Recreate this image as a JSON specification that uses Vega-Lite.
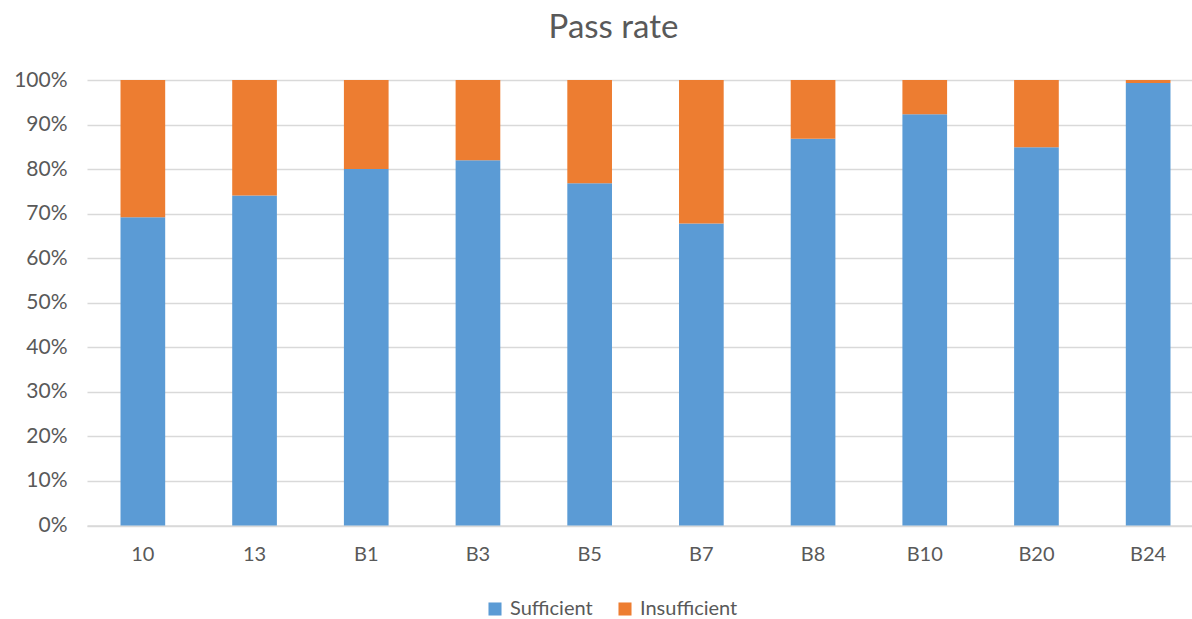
{
  "$schema": "https://vega.github.io/schema/vega-lite/v6.json",
  "autosize": {"type": "none"},
  "padding": {"left": 87, "top": 80, "right": 0, "bottom": 94},
  "width": 1117,
  "height": 445.5,
  "background": "white",
  "title": {
    "text": "Pass rate",
    "font": "Lato",
    "fontSize": 33,
    "fontWeight": "normal",
    "color": "#595959",
    "anchor": "middle",
    "frame": "group",
    "dx": -32,
    "offset": 24
  },
  "data": {
    "values": [
      {"group": "10", "series": "Sufficient", "value": 69.2},
      {"group": "10", "series": "Insufficient", "value": 30.8},
      {"group": "13", "series": "Sufficient", "value": 74.1},
      {"group": "13", "series": "Insufficient", "value": 25.9},
      {"group": "B1", "series": "Sufficient", "value": 80.0},
      {"group": "B1", "series": "Insufficient", "value": 20.0},
      {"group": "B3", "series": "Sufficient", "value": 82.0},
      {"group": "B3", "series": "Insufficient", "value": 18.0},
      {"group": "B5", "series": "Sufficient", "value": 76.8},
      {"group": "B5", "series": "Insufficient", "value": 23.2},
      {"group": "B7", "series": "Sufficient", "value": 67.8},
      {"group": "B7", "series": "Insufficient", "value": 32.2},
      {"group": "B8", "series": "Sufficient", "value": 86.8},
      {"group": "B8", "series": "Insufficient", "value": 13.2},
      {"group": "B10", "series": "Sufficient", "value": 92.3},
      {"group": "B10", "series": "Insufficient", "value": 7.7},
      {"group": "B20", "series": "Sufficient", "value": 84.9},
      {"group": "B20", "series": "Insufficient", "value": 15.1},
      {"group": "B24", "series": "Sufficient", "value": 99.3},
      {"group": "B24", "series": "Insufficient", "value": 0.7}
    ]
  },
  "mark": {"type": "bar"},
  "encoding": {
    "x": {
      "field": "group",
      "type": "nominal",
      "sort": null,
      "title": null,
      "scale": {"paddingInner": 0.6, "paddingOuter": 0.3},
      "axis": {
        "labelAngle": 0,
        "labelFont": "Lato",
        "labelFontSize": 20,
        "labelColor": "#595959",
        "labelPadding": 19,
        "ticks": false,
        "domain": true,
        "domainColor": "#D9D9D9",
        "domainWidth": 1.5,
        "grid": false
      }
    },
    "y": {
      "field": "value",
      "type": "quantitative",
      "stack": "normalize",
      "title": null,
      "scale": {"domain": [0, 1], "nice": false},
      "axis": {
        "values": [0, 0.1, 0.2, 0.3, 0.4, 0.5, 0.6, 0.7, 0.8, 0.9, 1],
        "format": ".0%",
        "labelFont": "Lato",
        "labelFontSize": 21,
        "labelColor": "#595959",
        "labelPadding": 20,
        "ticks": false,
        "domain": false,
        "grid": true,
        "gridColor": "#D9D9D9",
        "gridWidth": 1.5
      }
    },
    "color": {
      "field": "series",
      "type": "nominal",
      "scale": {"domain": ["Sufficient", "Insufficient"], "range": ["#5B9BD5", "#ED7D31"]},
      "legend": {
        "title": null,
        "orient": "none",
        "direction": "horizontal",
        "legendX": 398,
        "legendY": 519,
        "symbolType": "square",
        "symbolSize": 170,
        "symbolStrokeWidth": 0,
        "labelFont": "Lato",
        "labelFontSize": 20,
        "labelColor": "#595959",
        "columnPadding": 22,
        "labelOffset": 5
      }
    },
    "order": {"field": "series", "sort": "descending"}
  },
  "config": {"view": {"stroke": null}}
}
